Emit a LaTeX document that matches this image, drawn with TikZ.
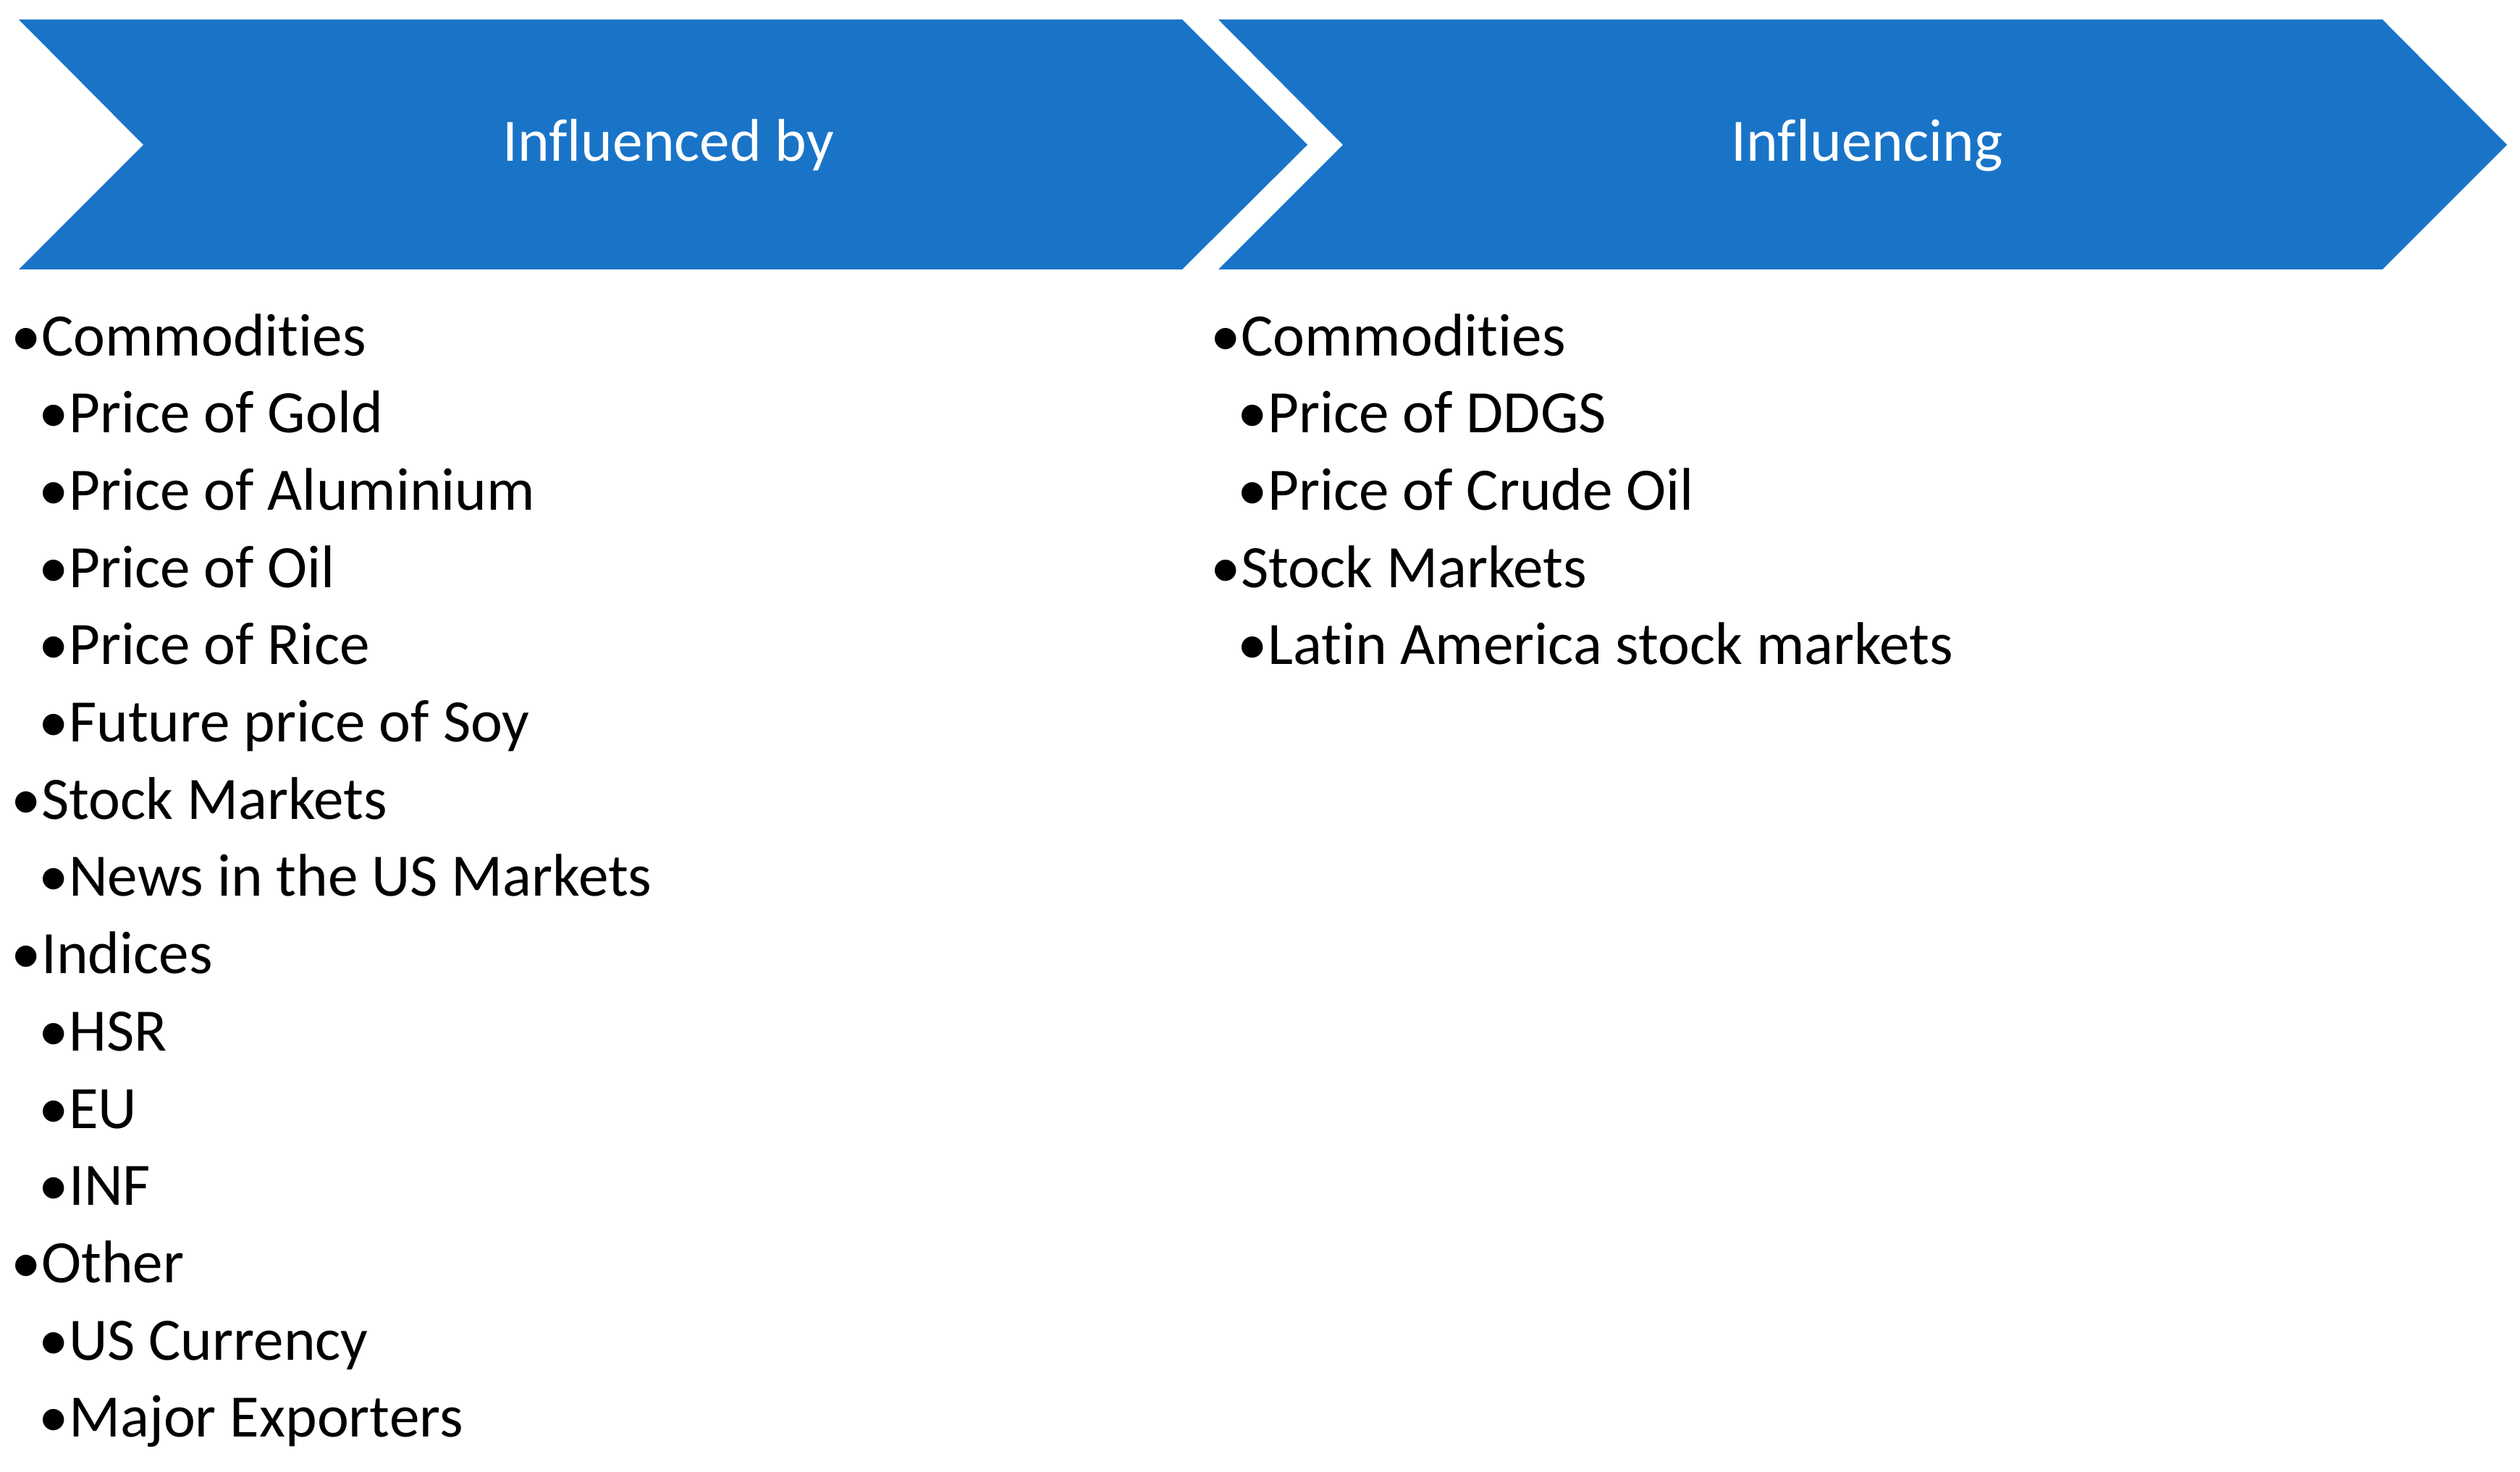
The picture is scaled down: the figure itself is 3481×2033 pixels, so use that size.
\documentclass[tikz,border=0pt]{standalone}
\usepackage{fontspec}
\setmainfont{Carlito}[Ligatures={NoCommon},RawFeature={-liga;-dlig;-clig}]
\definecolor{chevblue}{RGB}{25,116,200}
\begin{document}
\begin{tikzpicture}[x=0.25pt,y=-0.25pt,
  chev/.style={fill=chevblue,draw=none},
  hdr/.style={anchor=base,inner sep=0pt,text=white,font=\fontsize{20.8pt}{25pt}\selectfont},
  lvlone/.style={anchor=base west,inner sep=0pt,font=\fontsize{20.8pt}{25pt}\selectfont},
  lvltwo/.style={anchor=base west,inner sep=0pt,font=\fontsize{20.8pt}{25pt}\selectfont}]
\useasboundingbox (0,0) rectangle (3481,2033);
% chevrons
\fill[chev] (26,27) -- (1633,27) -- (1806,200) -- (1633,372) -- (26,372) -- (198,200) -- cycle;
\fill[chev] (1683,27) -- (3291,27) -- (3463,200) -- (3291,372) -- (1683,372) -- (1855,200) -- cycle;
\node[hdr] (h1) at (923,223) {Influenced by};
\node[hdr] (h2) at (2579,223) {Influencing};
% left column
\def\lx{15}
\def\lxx{53}
\node[lvlone] (l1) at (\lx,491) {•Commodities};
\node[lvltwo] (l2) at (\lxx,597.7) {•Price of Gold};
\node[lvltwo] (l3) at (\lxx,704.4) {•Price of Aluminium};
\node[lvltwo] (l4) at (\lxx,811.1) {•Price of Oil};
\node[lvltwo] (l5) at (\lxx,917.8) {•Price of Rice};
\node[lvltwo] (l6) at (\lxx,1024.5) {•Future price of Soy};
\node[lvlone] (l7) at (\lx,1131.2) {•Stock Markets};
\node[lvltwo] (l8) at (\lxx,1237.9) {•News in the US Markets};
\node[lvlone] (l9) at (\lx,1344.6) {•Indices};
\node[lvltwo] (l10) at (\lxx,1451.3) {•HSR};
\node[lvltwo] (l11) at (\lxx,1558) {•EU};
\node[lvltwo] (l12) at (\lxx,1664.7) {•INF};
\node[lvlone] (l13) at (\lx,1771.4) {•Other};
\node[lvltwo] (l14) at (\lxx,1878.1) {•US Currency};
\node[lvltwo] (l15) at (\lxx,1984.8) {•Major Exporters};
% right column
\def\rx{1672}
\def\rxx{1709}
\node[lvlone] (r1) at (\rx,491) {•Commodities};
\node[lvltwo] (r2) at (\rxx,597.7) {•Price of DDGS};
\node[lvltwo] (r3) at (\rxx,704.4) {•Price of Crude Oil};
\node[lvlone] (r4) at (\rx,811.1) {•Stock Markets};
\node[lvltwo] (r5) at (\rxx,917.8) {•Latin America stock markets};
\end{tikzpicture}
\end{document}
